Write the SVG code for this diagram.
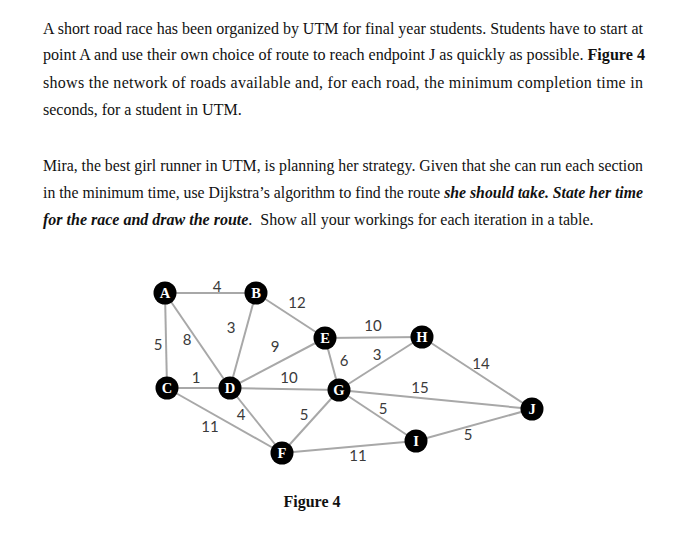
<svg xmlns="http://www.w3.org/2000/svg" width="700" height="556" viewBox="0 0 700 556">
<style>
.t{font-family:"Liberation Serif","Times New Roman",serif;font-size:16px;fill:#111}
.b{font-weight:bold}
.bi{font-weight:bold;font-style:italic}
.e{stroke:#a8a8a8;stroke-width:2;fill:none}
.w{font-family:"Lato","Open Sans",sans-serif;font-size:15px;fill:#3a3a3a;text-anchor:middle}
.n circle{fill:#000}
.n text{font-family:"Liberation Serif","Times New Roman",serif;font-size:14.5px;font-weight:bold;fill:#fff;text-anchor:middle}
</style>
<rect width="700" height="556" fill="#fff"/>
<g id="text">
<text class="t" x="43" y="34" textLength="600" lengthAdjust="spacingAndGlyphs">A short road race has been organized by UTM for final year students. Students have to start at</text>
<text class="t" x="43" y="60" textLength="602" lengthAdjust="spacingAndGlyphs">point A and use their own choice of route to reach endpoint J as quickly as possible. <tspan class="b">Figure 4</tspan></text>
<text class="t" x="43" y="88" textLength="600" lengthAdjust="spacing">shows the network of roads available and, for each road, the minimum completion time in</text>
<text class="t" x="43" y="115">seconds, for a student in UTM.</text>
<text class="t" x="43" y="171" textLength="600" lengthAdjust="spacingAndGlyphs">Mira, the best girl runner in UTM, is planning her strategy. Given that she can run each section</text>
<text class="t" x="43" y="198" textLength="600" lengthAdjust="spacingAndGlyphs">in the minimum time, use Dijkstra’s algorithm to find the route <tspan class="bi">she should take. State her time</tspan></text>
<text class="t" x="43" y="225"><tspan class="bi">for the race and draw the route</tspan>.&#160; Show all your workings for each iteration in a table.</text>
<text class="t b" x="312" y="507" text-anchor="middle">Figure 4</text>
</g>
<g id="connectors">
<line class="e" x1="165" y1="293" x2="256" y2="293"/>
<line class="e" x1="165" y1="293" x2="167" y2="388"/>
<line class="e" x1="165" y1="293" x2="230" y2="388"/>
<line class="e" x1="256" y1="293" x2="230" y2="388"/>
<line class="e" x1="256" y1="293" x2="325" y2="338"/>
<line class="e" x1="325" y1="338" x2="230" y2="388"/>
<line class="e" x1="325" y1="338" x2="422" y2="337"/>
<line class="e" x1="325" y1="338" x2="339" y2="390"/>
<line class="e" x1="167" y1="388" x2="230" y2="388"/>
<line class="e" x1="230" y1="388" x2="339" y2="390"/>
<line class="e" x1="167" y1="388" x2="282" y2="453"/>
<line class="e" x1="230" y1="388" x2="282" y2="453"/>
<line class="e" x1="282" y1="453" x2="339" y2="390"/>
<line class="e" x1="339" y1="390" x2="422" y2="337"/>
<line class="e" x1="339" y1="390" x2="532" y2="409"/>
<line class="e" x1="339" y1="390" x2="416" y2="441"/>
<line class="e" x1="422" y1="337" x2="532" y2="409"/>
<line class="e" x1="282" y1="453" x2="416" y2="441"/>
<line class="e" x1="416" y1="441" x2="532" y2="409"/>
</g>
<g id="weights">
<text class="w" x="217" y="292">4</text>
<text class="w" x="158" y="350">5</text>
<text class="w" x="187" y="345">8</text>
<text class="w" x="231" y="333">3</text>
<text class="w" x="297" y="308">12</text>
<text class="w" x="275" y="352">9</text>
<text class="w" x="196" y="383">1</text>
<text class="w" x="289" y="383">10</text>
<text class="w" x="344" y="366">6</text>
<text class="w" x="373" y="331">10</text>
<text class="w" x="377" y="360">3</text>
<text class="w" x="481" y="369">14</text>
<text class="w" x="420" y="393">15</text>
<text class="w" x="383" y="414">5</text>
<text class="w" x="468" y="440">5</text>
<text class="w" x="358" y="461">11</text>
<text class="w" x="241" y="420">4</text>
<text class="w" x="304" y="420">5</text>
<text class="w" x="210" y="432">11</text>
</g>
<g id="node-A" class="n"><circle cx="165" cy="293" r="11.5"/><text x="165" y="298">A</text></g>
<g id="node-B" class="n"><circle cx="256" cy="293" r="11.5"/><text x="256" y="298">B</text></g>
<g id="node-C" class="n"><circle cx="167" cy="388" r="11.5"/><text x="167" y="393">C</text></g>
<g id="node-D" class="n"><circle cx="230" cy="388" r="11.5"/><text x="230" y="393">D</text></g>
<g id="node-E" class="n"><circle cx="325" cy="338" r="11.5"/><text x="325" y="343">E</text></g>
<g id="node-F" class="n"><circle cx="282" cy="453" r="11.5"/><text x="282" y="458">F</text></g>
<g id="node-G" class="n"><circle cx="339" cy="390" r="11.5"/><text x="339" y="395">G</text></g>
<g id="node-H" class="n"><circle cx="422" cy="337" r="11.5"/><text x="422" y="342">H</text></g>
<g id="node-I" class="n"><circle cx="416" cy="441" r="11.5"/><text x="416" y="446">I</text></g>
<g id="node-J" class="n"><circle cx="532" cy="409" r="11.5"/><text x="532" y="414">J</text></g>
</svg>
